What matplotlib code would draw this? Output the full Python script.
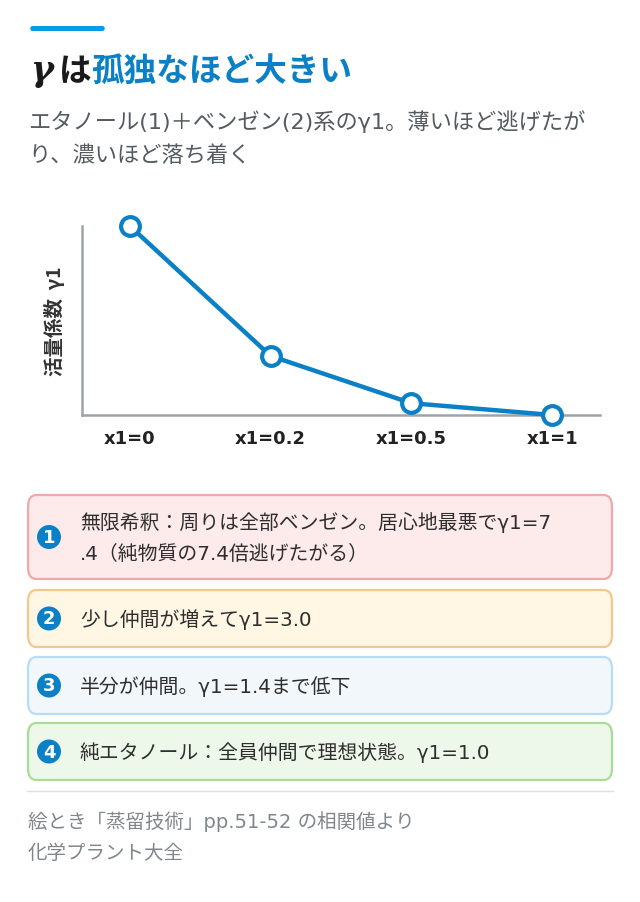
import matplotlib
matplotlib.use("Agg")
import matplotlib.pyplot as plt
from matplotlib.patches import FancyBboxPatch, Ellipse

JP = ['DejaVu Sans', 'Noto Sans CJK JP']
plt.rcParams['font.family'] = JP

# data
categories = ["x1=0", "x1=0.2", "x1=0.5", "x1=1"]
gamma1 = [7.4, 3.0, 1.4, 1.0]

notes = [
    "無限希釈：周りは全部ベンゼン。居心地最悪でγ1=7\n.4（純物質の7.4倍逃げたがる）",
    "少し仲間が増えてγ1=3.0",
    "半分が仲間。γ1=1.4まで低下",
    "純エタノール：全員仲間で理想状態。γ1=1.0",
]
note_fill = ["#fdeaea", "#fff6e3", "#f2f7fb", "#eef8ea"]
note_edge = ["#eea9a9", "#f1c98c", "#b8dcf3", "#a8dc98"]
note_top = [496, 591, 658, 724]
note_bottom = [580, 648, 715, 781]

W, H = 640, 903
BLUE = "#0a80c6"

fig = plt.figure(figsize=(W / 100, H / 100), dpi=100)


def fy(py):
    return 1 - py / H


def fx(px):
    return px / W


# accent bar
fig.patches.append(FancyBboxPatch((fx(30), fy(32)), fx(75), 5 / H,
                                  boxstyle="round,pad=0,rounding_size=0.004",
                                  transform=fig.transFigure, fc="#0a9be8", ec="none"))

# chart
ax = fig.add_axes([fx(82), fy(416), fx(600) - fx(82), (416 - 227) / H])
x = list(range(len(categories)))
ax.plot(x, gamma1, color=BLUE, lw=3.2, marker="o", ms=13.5, mfc="white", mec=BLUE, mew=3,
        clip_on=False, zorder=3)
ax.set_xlim(-0.34, 3.34)
ax.set_ylim(1.0, 7.4)
for s in ["top", "right"]:
    ax.spines[s].set_visible(False)
for s in ["left", "bottom"]:
    ax.spines[s].set_color("#9ea3aa")
    ax.spines[s].set_linewidth(1.8)
ax.set_yticks([])
ax.set_xticks(x)
ax.set_xticklabels(categories, fontsize=13, fontweight="bold", color="#222222")
ax.tick_params(axis="x", length=0, pad=10)
ax.set_ylabel("活量係数  γ1", fontsize=14, fontweight="bold", color="#333333", labelpad=12,
              family=['Noto Sans CJK JP', 'DejaVu Sans'])

# title: italic gamma, black は, blue rest
t0 = fig.text(fx(30), fy(88), "γ", fontsize=25, fontweight="bold", fontstyle="italic",
              family="DejaVu Serif", color="#1a1a1a", va="bottom")
t1 = ax.annotate("は", xy=(1, 0), xycoords=t0, xytext=(4, 0), textcoords="offset points",
                 fontsize=23.5, fontweight="bold", color="#1a1a1a", va="bottom", ha="left",
                 family=['Noto Sans CJK JP'], annotation_clip=False)
ax.annotate("孤独なほど大きい", xy=(1, 0), xycoords=t1, fontsize=23.5, fontweight="bold",
            color=BLUE, va="bottom", ha="left", family=['Noto Sans CJK JP'],
            annotation_clip=False)

# subtitle
fig.text(fx(28), fy(122), "エタノール(1)＋ベンゼン(2)系のγ1。薄いほど逃げたが",
         fontsize=16, color="#555a60", va="center")
fig.text(fx(28), fy(156), "り、濃いほど落ち着く", fontsize=16, color="#555a60", va="center")

# notes
for i, (txt, fc, ec, top, bot) in enumerate(zip(notes, note_fill, note_edge, note_top, note_bottom)):
    fig.patches.append(FancyBboxPatch((fx(28), fy(bot)), fx(612) - fx(28), (bot - top) / H,
                                      boxstyle="round,pad=0,rounding_size=0.013",
                                      transform=fig.transFigure, fc=fc, ec=ec, lw=1.6))
    cy = (top + bot) / 2
    fig.patches.append(Ellipse((fx(49), fy(cy)), 24 / W, 24 / H, transform=fig.transFigure,
                               fc=BLUE, ec="none"))
    fig.text(fx(49), fy(cy), str(i + 1), fontsize=13, fontweight="bold", color="white",
             ha="center", va="center")
    fig.text(fx(80), fy(cy), txt, fontsize=14.3, color="#2e2e2e", va="center", linespacing=1.75)

# footer
fig.add_artist(plt.Line2D([fx(27), fx(613)], [fy(792), fy(792)], color="#dcdfe3", lw=1))
fig.text(fx(28), fy(822), "絵とき「蒸留技術」pp.51-52 の相関値より", fontsize=14, color="#80868c", va="center")
fig.text(fx(28), fy(854), "化学プラント大全", fontsize=14, color="#80868c", va="center")

fig.savefig("out.png", dpi=100)
